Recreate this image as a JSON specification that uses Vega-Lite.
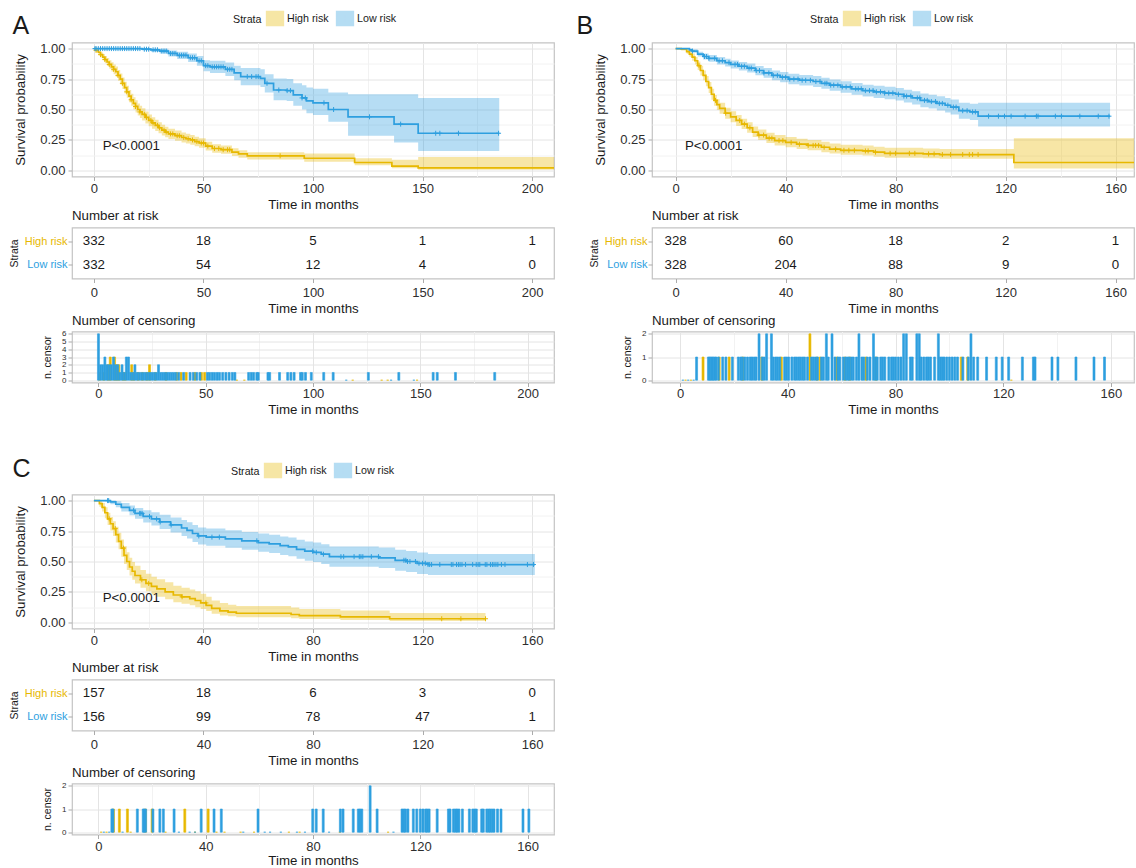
{
"$schema": "https://vega.github.io/schema/vega-lite/v6.json",
"background": "white",
"padding": {"left": 8, "top": 9.5, "right": 0, "bottom": 0},
"autosize": {"type": "pad"},
"config": {
 "font": "Liberation Sans",
 "view": {"stroke": "#C4C4C4", "strokeWidth": 1.2},
 "axis": {"labelFontSize": 13, "titleFontSize": 13.3, "titleFontWeight": "normal", "labelColor": "#2E2E2E", "titleColor": "#1A1A1A", "domain": false, "tickColor": "#ABABAB", "tickSize": 4, "tickWidth": 1, "labelPadding": 1.5, "titlePadding": 2, "gridColor": "#E4E4E4", "gridWidth": 1, "labelFlush": false, "labelOverlap": false},
 "title": {"fontWeight": "normal", "color": "#1A1A1A"}
},
"datasets": {
 "curvesA": [
  {"s":"H","t":0,"v":1,"lo":1,"hi":1},{"s":"H","t":1,"v":0.985,"lo":0.975,"hi":0.995},{"s":"H","t":2,"v":0.97,"lo":0.955,"hi":0.985},{"s":"H","t":3,"v":0.95,"lo":0.93,"hi":0.97},{"s":"H","t":4,"v":0.93,"lo":0.905,"hi":0.955},{"s":"H","t":5,"v":0.91,"lo":0.88,"hi":0.94},{"s":"H","t":6,"v":0.89,"lo":0.857,"hi":0.923},{"s":"H","t":7,"v":0.87,"lo":0.835,"hi":0.905},{"s":"H","t":8,"v":0.85,"lo":0.812,"hi":0.888},{"s":"H","t":9,"v":0.83,"lo":0.79,"hi":0.87},{"s":"H","t":10,"v":0.81,"lo":0.768,"hi":0.852},{"s":"H","t":11,"v":0.78,"lo":0.736,"hi":0.824},{"s":"H","t":12,"v":0.75,"lo":0.705,"hi":0.795},{"s":"H","t":13,"v":0.715,"lo":0.668,"hi":0.762},{"s":"H","t":14,"v":0.68,"lo":0.632,"hi":0.728},{"s":"H","t":15,"v":0.645,"lo":0.596,"hi":0.694},{"s":"H","t":16,"v":0.61,"lo":0.56,"hi":0.66},{"s":"H","t":17,"v":0.58,"lo":0.53,"hi":0.63},{"s":"H","t":18,"v":0.55,"lo":0.5,"hi":0.6},{"s":"H","t":19,"v":0.525,"lo":0.475,"hi":0.575},{"s":"H","t":20,"v":0.5,"lo":0.45,"hi":0.55},{"s":"H","t":21,"v":0.48,"lo":0.43,"hi":0.53},{"s":"H","t":22,"v":0.46,"lo":0.41,"hi":0.51},{"s":"H","t":23.5,"v":0.435,"lo":0.386,"hi":0.484},{"s":"H","t":25,"v":0.41,"lo":0.362,"hi":0.458},{"s":"H","t":26.5,"v":0.39,"lo":0.343,"hi":0.437},{"s":"H","t":28,"v":0.37,"lo":0.324,"hi":0.416},{"s":"H","t":29.5,"v":0.35,"lo":0.305,"hi":0.395},{"s":"H","t":31,"v":0.33,"lo":0.286,"hi":0.374},{"s":"H","t":32.5,"v":0.315,"lo":0.272,"hi":0.358},{"s":"H","t":34,"v":0.3,"lo":0.258,"hi":0.342},{"s":"H","t":37,"v":0.285,"lo":0.243,"hi":0.327},{"s":"H","t":40,"v":0.27,"lo":0.229,"hi":0.311},{"s":"H","t":42,"v":0.26,"lo":0.22,"hi":0.3},{"s":"H","t":44,"v":0.25,"lo":0.21,"hi":0.29},{"s":"H","t":46,"v":0.237,"lo":0.198,"hi":0.276},{"s":"H","t":48,"v":0.225,"lo":0.187,"hi":0.263},{"s":"H","t":51,"v":0.2,"lo":0.164,"hi":0.236},{"s":"H","t":54,"v":0.18,"lo":0.145,"hi":0.215},{"s":"H","t":58,"v":0.17,"lo":0.136,"hi":0.204},{"s":"H","t":63,"v":0.15,"lo":0.118,"hi":0.182},{"s":"H","t":66,"v":0.135,"lo":0.104,"hi":0.166},{"s":"H","t":70,"v":0.12,"lo":0.09,"hi":0.15},{"s":"H","t":96,"v":0.1,"lo":0.072,"hi":0.138},{"s":"H","t":119,"v":0.065,"lo":0.042,"hi":0.1},{"s":"H","t":136,"v":0.035,"lo":0.018,"hi":0.088},{"s":"H","t":148,"v":0.02,"lo":0.005,"hi":0.11},{"s":"H","t":215,"v":0.02,"lo":0.005,"hi":0.11},
  {"s":"L","t":0,"v":1,"lo":1,"hi":1},{"s":"L","t":22,"v":0.995,"lo":0.985,"hi":1},{"s":"L","t":26,"v":0.99,"lo":0.975,"hi":1},{"s":"L","t":30,"v":0.98,"lo":0.96,"hi":0.998},{"s":"L","t":34,"v":0.96,"lo":0.935,"hi":0.985},{"s":"L","t":38,"v":0.945,"lo":0.915,"hi":0.975},{"s":"L","t":43,"v":0.925,"lo":0.89,"hi":0.96},{"s":"L","t":47,"v":0.9,"lo":0.86,"hi":0.94},{"s":"L","t":50,"v":0.86,"lo":0.815,"hi":0.905},{"s":"L","t":53,"v":0.85,"lo":0.8,"hi":0.9},{"s":"L","t":60,"v":0.83,"lo":0.775,"hi":0.885},{"s":"L","t":64,"v":0.8,"lo":0.74,"hi":0.86},{"s":"L","t":67,"v":0.77,"lo":0.7,"hi":0.84},{"s":"L","t":76,"v":0.755,"lo":0.685,"hi":0.83},{"s":"L","t":78,"v":0.715,"lo":0.64,"hi":0.79},{"s":"L","t":82,"v":0.66,"lo":0.575,"hi":0.755},{"s":"L","t":88,"v":0.655,"lo":0.57,"hi":0.75},{"s":"L","t":91,"v":0.62,"lo":0.53,"hi":0.715},{"s":"L","t":95,"v":0.595,"lo":0.5,"hi":0.7},{"s":"L","t":97,"v":0.57,"lo":0.47,"hi":0.68},{"s":"L","t":100,"v":0.555,"lo":0.455,"hi":0.67},{"s":"L","t":107,"v":0.5,"lo":0.4,"hi":0.64},{"s":"L","t":116,"v":0.44,"lo":0.285,"hi":0.625},{"s":"L","t":137,"v":0.38,"lo":0.23,"hi":0.625},{"s":"L","t":148,"v":0.305,"lo":0.16,"hi":0.595},{"s":"L","t":185,"v":0.305,"lo":0.16,"hi":0.595}
 ],
 "marksA": [
  {"s":"H","t":1,"v":0.985},{"s":"H","t":3,"v":0.95},{"s":"H","t":5,"v":0.91},{"s":"H","t":7,"v":0.87},{"s":"H","t":9,"v":0.83},{"s":"H","t":11,"v":0.78},{"s":"H","t":13,"v":0.715},{"s":"H","t":15,"v":0.645},{"s":"H","t":17,"v":0.58},{"s":"H","t":19,"v":0.525},{"s":"H","t":21,"v":0.48},{"s":"H","t":23,"v":0.46},{"s":"H","t":24,"v":0.435},{"s":"H","t":26,"v":0.41},{"s":"H","t":27,"v":0.39},{"s":"H","t":29,"v":0.37},{"s":"H","t":30,"v":0.35},{"s":"H","t":32,"v":0.33},{"s":"H","t":33,"v":0.315},{"s":"H","t":35,"v":0.3},{"s":"H","t":36,"v":0.3},{"s":"H","t":38,"v":0.285},{"s":"H","t":39,"v":0.285},{"s":"H","t":41,"v":0.27},{"s":"H","t":43,"v":0.26},{"s":"H","t":45,"v":0.25},{"s":"H","t":47,"v":0.237},{"s":"H","t":49,"v":0.225},{"s":"H","t":50,"v":0.225},{"s":"H","t":52,"v":0.2},{"s":"H","t":55,"v":0.18},{"s":"H","t":57,"v":0.18},{"s":"H","t":59,"v":0.17},{"s":"H","t":61,"v":0.17},{"s":"H","t":62,"v":0.17},{"s":"H","t":85,"v":0.12},
  {"s":"L","t":0.5,"v":1},{"s":"L","t":1,"v":1},{"s":"L","t":2,"v":1},{"s":"L","t":3,"v":1},{"s":"L","t":4,"v":1},{"s":"L","t":5,"v":1},{"s":"L","t":6,"v":1},{"s":"L","t":7,"v":1},{"s":"L","t":8,"v":1},{"s":"L","t":9,"v":1},{"s":"L","t":10,"v":1},{"s":"L","t":11,"v":1},{"s":"L","t":12,"v":1},{"s":"L","t":13,"v":1},{"s":"L","t":14,"v":1},{"s":"L","t":15,"v":1},{"s":"L","t":16,"v":1},{"s":"L","t":17,"v":1},{"s":"L","t":18,"v":1},{"s":"L","t":19,"v":1},{"s":"L","t":20,"v":1},{"s":"L","t":21,"v":1},{"s":"L","t":23,"v":0.995},{"s":"L","t":24,"v":0.995},{"s":"L","t":25,"v":0.995},{"s":"L","t":27,"v":0.99},{"s":"L","t":28,"v":0.99},{"s":"L","t":29,"v":0.99},{"s":"L","t":31,"v":0.98},{"s":"L","t":32,"v":0.98},{"s":"L","t":33,"v":0.98},{"s":"L","t":35,"v":0.96},{"s":"L","t":36,"v":0.96},{"s":"L","t":37,"v":0.96},{"s":"L","t":39,"v":0.945},{"s":"L","t":40,"v":0.945},{"s":"L","t":41,"v":0.945},{"s":"L","t":42,"v":0.945},{"s":"L","t":44,"v":0.925},{"s":"L","t":45,"v":0.925},{"s":"L","t":46,"v":0.925},{"s":"L","t":48,"v":0.9},{"s":"L","t":49,"v":0.9},{"s":"L","t":51,"v":0.86},{"s":"L","t":52,"v":0.86},{"s":"L","t":54,"v":0.85},{"s":"L","t":55,"v":0.85},{"s":"L","t":56,"v":0.85},{"s":"L","t":57,"v":0.85},{"s":"L","t":58,"v":0.85},{"s":"L","t":59,"v":0.85},{"s":"L","t":61,"v":0.83},{"s":"L","t":62,"v":0.83},{"s":"L","t":63,"v":0.83},{"s":"L","t":70,"v":0.77},{"s":"L","t":72,"v":0.77},{"s":"L","t":74,"v":0.77},{"s":"L","t":75,"v":0.77},{"s":"L","t":79,"v":0.715},{"s":"L","t":84.4,"v":0.66},{"s":"L","t":88.2,"v":0.655},{"s":"L","t":89.7,"v":0.655},{"s":"L","t":95,"v":0.595},{"s":"L","t":96.5,"v":0.595},{"s":"L","t":105,"v":0.555},{"s":"L","t":109.4,"v":0.5},{"s":"L","t":125.8,"v":0.44},{"s":"L","t":140,"v":0.38},{"s":"L","t":156,"v":0.305},{"s":"L","t":157.9,"v":0.305},{"s":"L","t":166.4,"v":0.305},{"s":"L","t":184.7,"v":0.305}
 ],
 "pvA": [{"t":4,"v":0.2,"label":"P<0.0001"}],
 "riskA": [
  {"s":"H","t":0,"n":332},{"s":"H","t":50,"n":18},{"s":"H","t":100,"n":5},{"s":"H","t":150,"n":1},{"s":"H","t":200,"n":1},
  {"s":"L","t":0,"n":332},{"s":"L","t":50,"n":54},{"s":"L","t":100,"n":12},{"s":"L","t":150,"n":4},{"s":"L","t":200,"n":0}
 ],
 "censA": [
  {"s":"H","t":0.5,"n":1},{"s":"H","t":2.5,"n":1},{"s":"H","t":4.5,"n":2},{"s":"H","t":5.5,"n":3},{"s":"H","t":7.5,"n":3},{"s":"H","t":8.5,"n":2},{"s":"H","t":9.5,"n":2},{"s":"H","t":11.5,"n":1},{"s":"H","t":12.5,"n":1},{"s":"H","t":15.5,"n":2},{"s":"H","t":16.5,"n":1},{"s":"H","t":18.5,"n":1},{"s":"H","t":20.5,"n":1},{"s":"H","t":22.5,"n":1},{"s":"H","t":23.8,"n":2},{"s":"H","t":26.5,"n":1},{"s":"H","t":31.5,"n":1},{"s":"H","t":36.5,"n":1},{"s":"H","t":38.5,"n":1},{"s":"H","t":40.9,"n":1},{"s":"H","t":45,"n":1},{"s":"H","t":48,"n":1},{"s":"H","t":49.5,"n":1},{"s":"H","t":64.5,"n":0},{"s":"H","t":68,"n":0},{"s":"H","t":118.5,"n":0},{"s":"H","t":132,"n":0},{"s":"H","t":134.8,"n":0},{"s":"H","t":148.5,"n":0},
  {"s":"L","t":0,"n":6},{"s":"L","t":1,"n":2},{"s":"L","t":2,"n":2},{"s":"L","t":3,"n":3},{"s":"L","t":4,"n":2},{"s":"L","t":5,"n":2},{"s":"L","t":6,"n":2},{"s":"L","t":7,"n":3},{"s":"L","t":8,"n":2},{"s":"L","t":9,"n":2},{"s":"L","t":10,"n":1},{"s":"L","t":11,"n":2},{"s":"L","t":12,"n":1},{"s":"L","t":13,"n":3},{"s":"L","t":14,"n":3},{"s":"L","t":15,"n":1},{"s":"L","t":16,"n":1},{"s":"L","t":17,"n":2},{"s":"L","t":18,"n":1},{"s":"L","t":19,"n":1},{"s":"L","t":20,"n":1},{"s":"L","t":21,"n":1},{"s":"L","t":22,"n":1},{"s":"L","t":23,"n":1},{"s":"L","t":24,"n":1},{"s":"L","t":25,"n":1},{"s":"L","t":26,"n":1},{"s":"L","t":27,"n":1},{"s":"L","t":28,"n":2},{"s":"L","t":29,"n":1},{"s":"L","t":30,"n":1},{"s":"L","t":31,"n":1},{"s":"L","t":32,"n":1},{"s":"L","t":33,"n":1},{"s":"L","t":34,"n":1},{"s":"L","t":35,"n":1},{"s":"L","t":36,"n":1},{"s":"L","t":37.4,"n":1},{"s":"L","t":39.7,"n":1},{"s":"L","t":42.7,"n":1},{"s":"L","t":44.2,"n":1},{"s":"L","t":45.8,"n":1},{"s":"L","t":47.3,"n":1},{"s":"L","t":50.8,"n":1},{"s":"L","t":51.8,"n":1},{"s":"L","t":53,"n":1},{"s":"L","t":54.1,"n":1},{"s":"L","t":55.3,"n":1},{"s":"L","t":56.4,"n":1},{"s":"L","t":57.9,"n":1},{"s":"L","t":59.4,"n":1},{"s":"L","t":60.9,"n":1},{"s":"L","t":62.4,"n":1},{"s":"L","t":63.6,"n":1},{"s":"L","t":70,"n":1},{"s":"L","t":71.2,"n":1},{"s":"L","t":72.3,"n":1},{"s":"L","t":73.8,"n":1},{"s":"L","t":74.5,"n":1},{"s":"L","t":79,"n":1},{"s":"L","t":79.8,"n":1},{"s":"L","t":84.4,"n":1},{"s":"L","t":88.2,"n":1},{"s":"L","t":89.7,"n":1},{"s":"L","t":91.2,"n":1},{"s":"L","t":94.2,"n":1},{"s":"L","t":95,"n":1},{"s":"L","t":96.5,"n":1},{"s":"L","t":99.2,"n":1},{"s":"L","t":105,"n":1},{"s":"L","t":109.4,"n":1},{"s":"L","t":115.5,"n":0},{"s":"L","t":125.8,"n":1},{"s":"L","t":136.4,"n":0},{"s":"L","t":140,"n":1},{"s":"L","t":147,"n":0},{"s":"L","t":156,"n":1},{"s":"L","t":157.9,"n":1},{"s":"L","t":166.4,"n":1},{"s":"L","t":184.7,"n":1}
 ],
 "curvesB": [
  {"s":"H","t":0,"v":1,"lo":1,"hi":1},{"s":"H","t":2,"v":0.995,"lo":0.985,"hi":1},{"s":"H","t":4,"v":0.975,"lo":0.958,"hi":0.992},{"s":"H","t":5,"v":0.955,"lo":0.933,"hi":0.977},{"s":"H","t":6,"v":0.93,"lo":0.9,"hi":0.96},{"s":"H","t":7,"v":0.9,"lo":0.87,"hi":0.93},{"s":"H","t":8,"v":0.86,"lo":0.825,"hi":0.895},{"s":"H","t":9,"v":0.82,"lo":0.78,"hi":0.86},{"s":"H","t":10,"v":0.78,"lo":0.74,"hi":0.82},{"s":"H","t":11,"v":0.73,"lo":0.69,"hi":0.775},{"s":"H","t":12,"v":0.68,"lo":0.635,"hi":0.725},{"s":"H","t":13,"v":0.625,"lo":0.58,"hi":0.67},{"s":"H","t":14,"v":0.575,"lo":0.53,"hi":0.62},{"s":"H","t":15,"v":0.54,"lo":0.495,"hi":0.585},{"s":"H","t":16,"v":0.51,"lo":0.465,"hi":0.555},{"s":"H","t":18,"v":0.47,"lo":0.425,"hi":0.515},{"s":"H","t":20,"v":0.44,"lo":0.395,"hi":0.485},{"s":"H","t":22,"v":0.41,"lo":0.365,"hi":0.455},{"s":"H","t":24,"v":0.38,"lo":0.34,"hi":0.425},{"s":"H","t":26,"v":0.35,"lo":0.31,"hi":0.395},{"s":"H","t":28,"v":0.315,"lo":0.275,"hi":0.36},{"s":"H","t":30,"v":0.29,"lo":0.25,"hi":0.335},{"s":"H","t":33,"v":0.265,"lo":0.225,"hi":0.31},{"s":"H","t":36,"v":0.245,"lo":0.205,"hi":0.29},{"s":"H","t":40,"v":0.23,"lo":0.19,"hi":0.275},{"s":"H","t":44,"v":0.215,"lo":0.175,"hi":0.26},{"s":"H","t":48,"v":0.205,"lo":0.165,"hi":0.25},{"s":"H","t":53,"v":0.19,"lo":0.15,"hi":0.235},{"s":"H","t":56,"v":0.175,"lo":0.138,"hi":0.22},{"s":"H","t":60,"v":0.165,"lo":0.128,"hi":0.21},{"s":"H","t":68,"v":0.16,"lo":0.122,"hi":0.205},{"s":"H","t":72,"v":0.15,"lo":0.113,"hi":0.195},{"s":"H","t":76,"v":0.14,"lo":0.104,"hi":0.185},{"s":"H","t":90,"v":0.135,"lo":0.1,"hi":0.18},{"s":"H","t":96,"v":0.13,"lo":0.095,"hi":0.175},{"s":"H","t":123,"v":0.065,"lo":0.016,"hi":0.265},{"s":"H","t":175,"v":0.065,"lo":0.016,"hi":0.265},
  {"s":"L","t":0,"v":1,"lo":1,"hi":1},{"s":"L","t":5,"v":0.99,"lo":0.98,"hi":1},{"s":"L","t":6,"v":0.98,"lo":0.965,"hi":0.995},{"s":"L","t":8,"v":0.955,"lo":0.935,"hi":0.975},{"s":"L","t":10,"v":0.935,"lo":0.91,"hi":0.96},{"s":"L","t":12,"v":0.92,"lo":0.893,"hi":0.947},{"s":"L","t":15,"v":0.9,"lo":0.87,"hi":0.93},{"s":"L","t":18,"v":0.885,"lo":0.853,"hi":0.917},{"s":"L","t":20,"v":0.87,"lo":0.837,"hi":0.903},{"s":"L","t":23,"v":0.855,"lo":0.82,"hi":0.89},{"s":"L","t":26,"v":0.84,"lo":0.803,"hi":0.877},{"s":"L","t":29,"v":0.82,"lo":0.782,"hi":0.858},{"s":"L","t":32,"v":0.8,"lo":0.76,"hi":0.84},{"s":"L","t":35,"v":0.78,"lo":0.74,"hi":0.82},{"s":"L","t":38,"v":0.765,"lo":0.723,"hi":0.807},{"s":"L","t":41,"v":0.75,"lo":0.707,"hi":0.793},{"s":"L","t":45,"v":0.74,"lo":0.696,"hi":0.784},{"s":"L","t":50,"v":0.73,"lo":0.685,"hi":0.775},{"s":"L","t":53,"v":0.715,"lo":0.67,"hi":0.76},{"s":"L","t":56,"v":0.7,"lo":0.654,"hi":0.746},{"s":"L","t":60,"v":0.685,"lo":0.638,"hi":0.732},{"s":"L","t":64,"v":0.67,"lo":0.622,"hi":0.718},{"s":"L","t":68,"v":0.655,"lo":0.606,"hi":0.704},{"s":"L","t":72,"v":0.645,"lo":0.595,"hi":0.695},{"s":"L","t":76,"v":0.635,"lo":0.584,"hi":0.686},{"s":"L","t":80,"v":0.625,"lo":0.573,"hi":0.677},{"s":"L","t":83,"v":0.61,"lo":0.557,"hi":0.663},{"s":"L","t":86,"v":0.595,"lo":0.541,"hi":0.649},{"s":"L","t":89,"v":0.575,"lo":0.519,"hi":0.631},{"s":"L","t":92,"v":0.565,"lo":0.508,"hi":0.622},{"s":"L","t":95,"v":0.55,"lo":0.492,"hi":0.608},{"s":"L","t":98,"v":0.535,"lo":0.475,"hi":0.595},{"s":"L","t":100,"v":0.52,"lo":0.458,"hi":0.582},{"s":"L","t":103,"v":0.49,"lo":0.425,"hi":0.555},{"s":"L","t":107,"v":0.48,"lo":0.413,"hi":0.547},{"s":"L","t":110,"v":0.445,"lo":0.36,"hi":0.555},{"s":"L","t":158,"v":0.445,"lo":0.36,"hi":0.555}
 ],
 "marksB": [
  {"s":"H","t":8.5,"v":0.86},{"s":"H","t":14.5,"v":0.575},{"s":"H","t":18.2,"v":0.47},{"s":"H","t":23.3,"v":0.41},{"s":"H","t":25,"v":0.38},{"s":"H","t":27,"v":0.35},{"s":"H","t":30.3,"v":0.29},{"s":"H","t":32,"v":0.29},{"s":"H","t":34,"v":0.265},{"s":"H","t":35,"v":0.265},{"s":"H","t":37.6,"v":0.245},{"s":"H","t":39,"v":0.245},{"s":"H","t":42,"v":0.23},{"s":"H","t":45,"v":0.215},{"s":"H","t":48.2,"v":0.205},{"s":"H","t":50,"v":0.205},{"s":"H","t":50.9,"v":0.205},{"s":"H","t":52,"v":0.205},{"s":"H","t":54,"v":0.19},{"s":"H","t":58.2,"v":0.175},{"s":"H","t":61.2,"v":0.165},{"s":"H","t":63,"v":0.165},{"s":"H","t":65,"v":0.165},{"s":"H","t":69,"v":0.16},{"s":"H","t":70,"v":0.16},{"s":"H","t":72.7,"v":0.15},{"s":"H","t":78,"v":0.14},{"s":"H","t":80,"v":0.14},{"s":"H","t":85,"v":0.14},{"s":"H","t":87,"v":0.14},{"s":"H","t":92,"v":0.135},{"s":"H","t":94,"v":0.135},{"s":"H","t":97,"v":0.13},{"s":"H","t":100,"v":0.13},{"s":"H","t":104.4,"v":0.13},{"s":"H","t":106.8,"v":0.13},{"s":"H","t":108,"v":0.13},{"s":"H","t":110,"v":0.13},
  {"s":"L","t":6.1,"v":0.98},{"s":"L","t":10.5,"v":0.935},{"s":"L","t":11.2,"v":0.935},{"s":"L","t":12.1,"v":0.92},{"s":"L","t":14.2,"v":0.92},{"s":"L","t":15.8,"v":0.9},{"s":"L","t":17,"v":0.9},{"s":"L","t":19.4,"v":0.885},{"s":"L","t":21.6,"v":0.87},{"s":"L","t":22.5,"v":0.87},{"s":"L","t":24,"v":0.855},{"s":"L","t":25,"v":0.855},{"s":"L","t":26.7,"v":0.84},{"s":"L","t":27.5,"v":0.84},{"s":"L","t":29.3,"v":0.82},{"s":"L","t":30.5,"v":0.82},{"s":"L","t":32.1,"v":0.8},{"s":"L","t":33.9,"v":0.8},{"s":"L","t":35.5,"v":0.78},{"s":"L","t":37,"v":0.78},{"s":"L","t":38.8,"v":0.765},{"s":"L","t":40,"v":0.765},{"s":"L","t":41.5,"v":0.75},{"s":"L","t":43,"v":0.75},{"s":"L","t":44.5,"v":0.75},{"s":"L","t":46,"v":0.74},{"s":"L","t":47.3,"v":0.74},{"s":"L","t":49,"v":0.74},{"s":"L","t":51,"v":0.73},{"s":"L","t":52.5,"v":0.73},{"s":"L","t":54.3,"v":0.715},{"s":"L","t":55,"v":0.715},{"s":"L","t":56.4,"v":0.7},{"s":"L","t":57.5,"v":0.7},{"s":"L","t":59,"v":0.7},{"s":"L","t":60.6,"v":0.685},{"s":"L","t":62,"v":0.685},{"s":"L","t":63.5,"v":0.685},{"s":"L","t":65.5,"v":0.67},{"s":"L","t":66.4,"v":0.67},{"s":"L","t":67.5,"v":0.67},{"s":"L","t":69,"v":0.655},{"s":"L","t":70.5,"v":0.655},{"s":"L","t":71.8,"v":0.655},{"s":"L","t":73,"v":0.645},{"s":"L","t":74.5,"v":0.645},{"s":"L","t":76,"v":0.635},{"s":"L","t":77.5,"v":0.635},{"s":"L","t":79,"v":0.635},{"s":"L","t":81,"v":0.625},{"s":"L","t":83,"v":0.61},{"s":"L","t":84,"v":0.61},{"s":"L","t":85.5,"v":0.61},{"s":"L","t":87.9,"v":0.595},{"s":"L","t":88.8,"v":0.595},{"s":"L","t":90.5,"v":0.575},{"s":"L","t":91.5,"v":0.575},{"s":"L","t":93,"v":0.565},{"s":"L","t":94.5,"v":0.565},{"s":"L","t":95.9,"v":0.55},{"s":"L","t":97,"v":0.55},{"s":"L","t":99,"v":0.535},{"s":"L","t":101,"v":0.52},{"s":"L","t":102,"v":0.52},{"s":"L","t":104.4,"v":0.49},{"s":"L","t":106,"v":0.49},{"s":"L","t":108,"v":0.48},{"s":"L","t":109,"v":0.48},{"s":"L","t":113.8,"v":0.445},{"s":"L","t":117.4,"v":0.445},{"s":"L","t":119.6,"v":0.445},{"s":"L","t":122,"v":0.445},{"s":"L","t":127.1,"v":0.445},{"s":"L","t":131.2,"v":0.445},{"s":"L","t":131.8,"v":0.445},{"s":"L","t":138.1,"v":0.445},{"s":"L","t":140.3,"v":0.445},{"s":"L","t":147,"v":0.445},{"s":"L","t":153.7,"v":0.445},{"s":"L","t":157.6,"v":0.445}
 ],
 "pvB": [{"t":3.4,"v":0.2,"label":"P<0.0001"}],
 "riskB": [
  {"s":"H","t":0,"n":328},{"s":"H","t":40,"n":60},{"s":"H","t":80,"n":18},{"s":"H","t":120,"n":2},{"s":"H","t":160,"n":1},
  {"s":"L","t":0,"n":328},{"s":"L","t":40,"n":204},{"s":"L","t":80,"n":88},{"s":"L","t":120,"n":9},{"s":"L","t":160,"n":0}
 ],
 "censB": [
  {"s":"H","t":2,"n":0},{"s":"H","t":4,"n":0},{"s":"H","t":8.5,"n":1},{"s":"H","t":14.5,"n":1},{"s":"H","t":18.2,"n":1},{"s":"H","t":23.3,"n":1},{"s":"H","t":30.3,"n":1},{"s":"H","t":37.6,"n":1},{"s":"H","t":48.2,"n":2},{"s":"H","t":50.9,"n":1},{"s":"H","t":52,"n":1},{"s":"H","t":58.2,"n":1},{"s":"H","t":61.2,"n":1},{"s":"H","t":63,"n":1},{"s":"H","t":69,"n":1},{"s":"H","t":72.7,"n":1},{"s":"H","t":104.4,"n":1},{"s":"H","t":106.8,"n":1},{"s":"H","t":123,"n":0},
  {"s":"L","t":1,"n":0},{"s":"L","t":3,"n":0},{"s":"L","t":5,"n":0},{"s":"L","t":6.1,"n":1},{"s":"L","t":10.5,"n":1},{"s":"L","t":11,"n":1},{"s":"L","t":11.6,"n":1},{"s":"L","t":12.1,"n":1},{"s":"L","t":12.7,"n":1},{"s":"L","t":13.3,"n":1},{"s":"L","t":14.2,"n":1},{"s":"L","t":15.8,"n":1},{"s":"L","t":17,"n":1},{"s":"L","t":19.4,"n":1},{"s":"L","t":21.6,"n":1},{"s":"L","t":22.5,"n":1},{"s":"L","t":23.1,"n":1},{"s":"L","t":24,"n":1},{"s":"L","t":25,"n":1},{"s":"L","t":26,"n":1},{"s":"L","t":26.7,"n":1},{"s":"L","t":27.5,"n":1},{"s":"L","t":28.2,"n":1},{"s":"L","t":29.3,"n":2},{"s":"L","t":30.5,"n":1},{"s":"L","t":31.2,"n":1},{"s":"L","t":32.1,"n":2},{"s":"L","t":33.9,"n":2},{"s":"L","t":34.6,"n":1},{"s":"L","t":35.5,"n":1},{"s":"L","t":36.2,"n":1},{"s":"L","t":37,"n":1},{"s":"L","t":38.8,"n":1},{"s":"L","t":39.5,"n":1},{"s":"L","t":40.3,"n":1},{"s":"L","t":41.5,"n":1},{"s":"L","t":42.5,"n":1},{"s":"L","t":43.2,"n":1},{"s":"L","t":44,"n":1},{"s":"L","t":44.7,"n":1},{"s":"L","t":45.5,"n":1},{"s":"L","t":46.2,"n":1},{"s":"L","t":47.3,"n":1},{"s":"L","t":48.8,"n":1},{"s":"L","t":49.5,"n":1},{"s":"L","t":50.3,"n":1},{"s":"L","t":51,"n":1},{"s":"L","t":52.5,"n":1},{"s":"L","t":53.2,"n":1},{"s":"L","t":54.3,"n":2},{"s":"L","t":55,"n":1},{"s":"L","t":56.4,"n":2},{"s":"L","t":57.5,"n":1},{"s":"L","t":58.6,"n":1},{"s":"L","t":59.3,"n":1},{"s":"L","t":60.6,"n":1},{"s":"L","t":61.5,"n":1},{"s":"L","t":62.2,"n":1},{"s":"L","t":62.8,"n":1},{"s":"L","t":63.6,"n":1},{"s":"L","t":64.3,"n":1},{"s":"L","t":65.5,"n":1},{"s":"L","t":66.4,"n":2},{"s":"L","t":67.5,"n":1},{"s":"L","t":68.2,"n":1},{"s":"L","t":69.5,"n":1},{"s":"L","t":70.5,"n":1},{"s":"L","t":71.8,"n":2},{"s":"L","t":72.5,"n":1},{"s":"L","t":73.2,"n":1},{"s":"L","t":74.5,"n":1},{"s":"L","t":75.2,"n":1},{"s":"L","t":76,"n":1},{"s":"L","t":77.5,"n":1},{"s":"L","t":78.5,"n":1},{"s":"L","t":79.2,"n":1},{"s":"L","t":80,"n":1},{"s":"L","t":81,"n":1},{"s":"L","t":82,"n":1},{"s":"L","t":83,"n":2},{"s":"L","t":84,"n":2},{"s":"L","t":85.5,"n":1},{"s":"L","t":86.2,"n":1},{"s":"L","t":87.9,"n":2},{"s":"L","t":88.8,"n":2},{"s":"L","t":89.5,"n":1},{"s":"L","t":90.5,"n":1},{"s":"L","t":91.5,"n":1},{"s":"L","t":92.2,"n":1},{"s":"L","t":93,"n":1},{"s":"L","t":94.5,"n":1},{"s":"L","t":95.9,"n":2},{"s":"L","t":96.6,"n":1},{"s":"L","t":97.3,"n":1},{"s":"L","t":98,"n":1},{"s":"L","t":99,"n":1},{"s":"L","t":100,"n":1},{"s":"L","t":101,"n":1},{"s":"L","t":102,"n":1},{"s":"L","t":103,"n":1},{"s":"L","t":105,"n":1},{"s":"L","t":107,"n":1},{"s":"L","t":108,"n":2},{"s":"L","t":109,"n":1},{"s":"L","t":110.5,"n":1},{"s":"L","t":113.8,"n":1},{"s":"L","t":117.4,"n":1},{"s":"L","t":119.6,"n":1},{"s":"L","t":122,"n":1},{"s":"L","t":127.1,"n":1},{"s":"L","t":131.2,"n":1},{"s":"L","t":131.8,"n":1},{"s":"L","t":138.1,"n":1},{"s":"L","t":140.3,"n":1},{"s":"L","t":147,"n":1},{"s":"L","t":153.7,"n":1},{"s":"L","t":157.6,"n":1}
 ],
 "curvesC": [
  {"s":"H","t":0,"v":1,"lo":1,"hi":1},{"s":"H","t":2,"v":0.975,"lo":0.95,"hi":1},{"s":"H","t":3,"v":0.945,"lo":0.91,"hi":0.98},{"s":"H","t":4,"v":0.9,"lo":0.855,"hi":0.945},{"s":"H","t":5,"v":0.85,"lo":0.8,"hi":0.9},{"s":"H","t":6,"v":0.81,"lo":0.755,"hi":0.865},{"s":"H","t":7,"v":0.77,"lo":0.71,"hi":0.83},{"s":"H","t":8,"v":0.72,"lo":0.655,"hi":0.785},{"s":"H","t":9,"v":0.665,"lo":0.6,"hi":0.735},{"s":"H","t":10,"v":0.61,"lo":0.54,"hi":0.68},{"s":"H","t":11,"v":0.55,"lo":0.48,"hi":0.625},{"s":"H","t":12,"v":0.5,"lo":0.43,"hi":0.575},{"s":"H","t":13,"v":0.455,"lo":0.385,"hi":0.53},{"s":"H","t":14,"v":0.42,"lo":0.35,"hi":0.495},{"s":"H","t":15,"v":0.385,"lo":0.32,"hi":0.465},{"s":"H","t":17,"v":0.35,"lo":0.285,"hi":0.43},{"s":"H","t":19,"v":0.32,"lo":0.255,"hi":0.4},{"s":"H","t":21,"v":0.295,"lo":0.23,"hi":0.375},{"s":"H","t":23,"v":0.275,"lo":0.21,"hi":0.355},{"s":"H","t":26,"v":0.25,"lo":0.19,"hi":0.33},{"s":"H","t":29,"v":0.225,"lo":0.165,"hi":0.3},{"s":"H","t":32,"v":0.21,"lo":0.153,"hi":0.285},{"s":"H","t":35,"v":0.195,"lo":0.14,"hi":0.27},{"s":"H","t":37,"v":0.18,"lo":0.125,"hi":0.255},{"s":"H","t":39,"v":0.16,"lo":0.11,"hi":0.235},{"s":"H","t":41,"v":0.14,"lo":0.093,"hi":0.21},{"s":"H","t":43,"v":0.115,"lo":0.072,"hi":0.18},{"s":"H","t":46,"v":0.095,"lo":0.057,"hi":0.16},{"s":"H","t":49,"v":0.085,"lo":0.05,"hi":0.145},{"s":"H","t":52,"v":0.075,"lo":0.042,"hi":0.134},{"s":"H","t":72,"v":0.065,"lo":0.035,"hi":0.123},{"s":"H","t":75,"v":0.055,"lo":0.028,"hi":0.11},{"s":"H","t":90,"v":0.045,"lo":0.02,"hi":0.097},{"s":"H","t":108,"v":0.03,"lo":0.012,"hi":0.078},{"s":"H","t":143,"v":0.03,"lo":0.012,"hi":0.078},
  {"s":"L","t":0,"v":1,"lo":1,"hi":1},{"s":"L","t":6,"v":0.99,"lo":0.97,"hi":1},{"s":"L","t":8,"v":0.97,"lo":0.945,"hi":0.995},{"s":"L","t":10,"v":0.945,"lo":0.91,"hi":0.98},{"s":"L","t":13,"v":0.92,"lo":0.88,"hi":0.96},{"s":"L","t":15,"v":0.895,"lo":0.85,"hi":0.94},{"s":"L","t":18,"v":0.87,"lo":0.82,"hi":0.92},{"s":"L","t":21,"v":0.85,"lo":0.795,"hi":0.905},{"s":"L","t":24,"v":0.825,"lo":0.767,"hi":0.883},{"s":"L","t":28,"v":0.8,"lo":0.738,"hi":0.862},{"s":"L","t":32,"v":0.775,"lo":0.71,"hi":0.84},{"s":"L","t":34,"v":0.755,"lo":0.688,"hi":0.822},{"s":"L","t":36,"v":0.73,"lo":0.66,"hi":0.8},{"s":"L","t":38,"v":0.71,"lo":0.64,"hi":0.78},{"s":"L","t":41,"v":0.7,"lo":0.63,"hi":0.77},{"s":"L","t":48,"v":0.685,"lo":0.613,"hi":0.757},{"s":"L","t":54,"v":0.67,"lo":0.597,"hi":0.743},{"s":"L","t":60,"v":0.655,"lo":0.58,"hi":0.73},{"s":"L","t":64,"v":0.645,"lo":0.57,"hi":0.72},{"s":"L","t":68,"v":0.63,"lo":0.554,"hi":0.706},{"s":"L","t":71,"v":0.62,"lo":0.543,"hi":0.697},{"s":"L","t":74,"v":0.6,"lo":0.522,"hi":0.678},{"s":"L","t":77,"v":0.585,"lo":0.506,"hi":0.664},{"s":"L","t":80,"v":0.575,"lo":0.495,"hi":0.655},{"s":"L","t":83,"v":0.56,"lo":0.479,"hi":0.641},{"s":"L","t":86,"v":0.54,"lo":0.457,"hi":0.623},{"s":"L","t":104,"v":0.53,"lo":0.446,"hi":0.614},{"s":"L","t":110,"v":0.51,"lo":0.424,"hi":0.596},{"s":"L","t":114,"v":0.5,"lo":0.413,"hi":0.587},{"s":"L","t":118,"v":0.485,"lo":0.397,"hi":0.573},{"s":"L","t":122,"v":0.475,"lo":0.39,"hi":0.562},{"s":"L","t":161,"v":0.475,"lo":0.39,"hi":0.562}
 ],
 "marksC": [
  {"s":"H","t":5.6,"v":0.85},{"s":"H","t":7.8,"v":0.77},{"s":"H","t":10.8,"v":0.61},{"s":"H","t":17.5,"v":0.35},{"s":"H","t":20,"v":0.32},{"s":"H","t":32.2,"v":0.21},{"s":"H","t":40.9,"v":0.16},{"s":"H","t":127,"v":0.03},{"s":"H","t":134,"v":0.03},{"s":"H","t":143,"v":0.03},
  {"s":"L","t":5,"v":1},{"s":"L","t":5.4,"v":1},{"s":"L","t":14.5,"v":0.92},{"s":"L","t":16.7,"v":0.895},{"s":"L","t":17.1,"v":0.895},{"s":"L","t":17.6,"v":0.895},{"s":"L","t":20.3,"v":0.87},{"s":"L","t":22.9,"v":0.85},{"s":"L","t":24.2,"v":0.825},{"s":"L","t":28.2,"v":0.8},{"s":"L","t":38.3,"v":0.71},{"s":"L","t":43.1,"v":0.7},{"s":"L","t":45.8,"v":0.7},{"s":"L","t":59.5,"v":0.67},{"s":"L","t":79.9,"v":0.585},{"s":"L","t":81.2,"v":0.575},{"s":"L","t":83.8,"v":0.56},{"s":"L","t":90.2,"v":0.54},{"s":"L","t":91.2,"v":0.54},{"s":"L","t":95,"v":0.54},{"s":"L","t":96.9,"v":0.54},{"s":"L","t":97.5,"v":0.54},{"s":"L","t":98.2,"v":0.54},{"s":"L","t":101.3,"v":0.54},{"s":"L","t":103.9,"v":0.54},{"s":"L","t":113.2,"v":0.51},{"s":"L","t":113.9,"v":0.51},{"s":"L","t":114.5,"v":0.5},{"s":"L","t":115.4,"v":0.5},{"s":"L","t":117.4,"v":0.5},{"s":"L","t":118.7,"v":0.485},{"s":"L","t":120,"v":0.485},{"s":"L","t":121,"v":0.485},{"s":"L","t":122,"v":0.475},{"s":"L","t":122.6,"v":0.475},{"s":"L","t":123.3,"v":0.475},{"s":"L","t":126.3,"v":0.475},{"s":"L","t":130.5,"v":0.475},{"s":"L","t":131.1,"v":0.475},{"s":"L","t":132.4,"v":0.475},{"s":"L","t":133.1,"v":0.475},{"s":"L","t":133.7,"v":0.475},{"s":"L","t":134.4,"v":0.475},{"s":"L","t":135.7,"v":0.475},{"s":"L","t":138.3,"v":0.475},{"s":"L","t":139.6,"v":0.475},{"s":"L","t":140.3,"v":0.475},{"s":"L","t":140.9,"v":0.475},{"s":"L","t":142.9,"v":0.475},{"s":"L","t":143.5,"v":0.475},{"s":"L","t":144.8,"v":0.475},{"s":"L","t":145.5,"v":0.475},{"s":"L","t":146.1,"v":0.475},{"s":"L","t":146.8,"v":0.475},{"s":"L","t":147.5,"v":0.475},{"s":"L","t":148.8,"v":0.475},{"s":"L","t":150.1,"v":0.475},{"s":"L","t":158.3,"v":0.475},{"s":"L","t":160.5,"v":0.475}
 ],
 "pvC": [{"t":3.2,"v":0.2,"label":"P<0.0001"}],
 "riskC": [
  {"s":"H","t":0,"n":157},{"s":"H","t":40,"n":18},{"s":"H","t":80,"n":6},{"s":"H","t":120,"n":3},{"s":"H","t":160,"n":0},
  {"s":"L","t":0,"n":156},{"s":"L","t":40,"n":99},{"s":"L","t":80,"n":78},{"s":"L","t":120,"n":47},{"s":"L","t":160,"n":1}
 ],
 "censC": [
  {"s":"H","t":1,"n":0},{"s":"H","t":3,"n":0},{"s":"H","t":5.6,"n":1},{"s":"H","t":7.8,"n":1},{"s":"H","t":10.8,"n":1},{"s":"H","t":12,"n":0},{"s":"H","t":17.5,"n":1},{"s":"H","t":20,"n":1},{"s":"H","t":25,"n":0},{"s":"H","t":32.2,"n":1},{"s":"H","t":36,"n":0},{"s":"H","t":40.9,"n":1},{"s":"H","t":44,"n":0},{"s":"H","t":47,"n":0},{"s":"H","t":53,"n":0},{"s":"H","t":58,"n":0},{"s":"H","t":71,"n":0},{"s":"H","t":75,"n":0},{"s":"H","t":90,"n":0},{"s":"H","t":108,"n":0},
  {"s":"L","t":2,"n":0},{"s":"L","t":4,"n":0},{"s":"L","t":5,"n":1},{"s":"L","t":5.4,"n":1},{"s":"L","t":9,"n":0},{"s":"L","t":14.5,"n":1},{"s":"L","t":16.7,"n":1},{"s":"L","t":17.1,"n":1},{"s":"L","t":17.6,"n":1},{"s":"L","t":20.3,"n":1},{"s":"L","t":22.9,"n":1},{"s":"L","t":24.2,"n":1},{"s":"L","t":28.2,"n":1},{"s":"L","t":30,"n":0},{"s":"L","t":34,"n":0},{"s":"L","t":36,"n":0},{"s":"L","t":38.3,"n":1},{"s":"L","t":43.1,"n":1},{"s":"L","t":45.8,"n":1},{"s":"L","t":54,"n":0},{"s":"L","t":59.5,"n":1},{"s":"L","t":62,"n":0},{"s":"L","t":64,"n":0},{"s":"L","t":68,"n":0},{"s":"L","t":74,"n":0},{"s":"L","t":77,"n":0},{"s":"L","t":79.9,"n":1},{"s":"L","t":81.2,"n":1},{"s":"L","t":83.8,"n":1},{"s":"L","t":86,"n":0},{"s":"L","t":90.2,"n":1},{"s":"L","t":91.2,"n":1},{"s":"L","t":95,"n":1},{"s":"L","t":96.9,"n":1},{"s":"L","t":97.5,"n":1},{"s":"L","t":98.2,"n":1},{"s":"L","t":101.3,"n":2},{"s":"L","t":103.9,"n":1},{"s":"L","t":104,"n":0},{"s":"L","t":110,"n":0},{"s":"L","t":113.2,"n":1},{"s":"L","t":113.9,"n":1},{"s":"L","t":114.5,"n":1},{"s":"L","t":115.4,"n":1},{"s":"L","t":117.4,"n":1},{"s":"L","t":118.7,"n":1},{"s":"L","t":120,"n":1},{"s":"L","t":121,"n":1},{"s":"L","t":122,"n":1},{"s":"L","t":122.6,"n":1},{"s":"L","t":123.3,"n":1},{"s":"L","t":126.3,"n":1},{"s":"L","t":130.5,"n":1},{"s":"L","t":131.1,"n":1},{"s":"L","t":132.4,"n":1},{"s":"L","t":133.1,"n":1},{"s":"L","t":133.7,"n":1},{"s":"L","t":134.4,"n":1},{"s":"L","t":135.7,"n":1},{"s":"L","t":138.3,"n":1},{"s":"L","t":139.6,"n":1},{"s":"L","t":140.3,"n":1},{"s":"L","t":140.9,"n":1},{"s":"L","t":142.9,"n":1},{"s":"L","t":143.5,"n":1},{"s":"L","t":144.8,"n":1},{"s":"L","t":145.5,"n":1},{"s":"L","t":146.1,"n":1},{"s":"L","t":146.8,"n":1},{"s":"L","t":147.5,"n":1},{"s":"L","t":148.8,"n":1},{"s":"L","t":150.1,"n":1},{"s":"L","t":158.3,"n":1},{"s":"L","t":160.5,"n":1}
 ]
},
"columns": 2,
"spacing": {"row": 40, "column": 21},
"resolve": {"scale": {"color": "independent", "stroke": "independent"}, "legend": {"color": "independent", "stroke": "independent"}},
"concat": [
 {
  "title": {"text": "A", "anchor": "start", "frame": "bounds", "fontSize": 25, "offset": 0, "dy": 29, "dx": 4},
  "spacing": -3,
  "resolve": {"scale": {"x": "independent", "y": "independent", "color": "independent", "stroke": "independent"}, "legend": {"color": "independent", "stroke": "independent"}},
  "vconcat": [
   {"width": 482, "height": 134,
    "layer": [
     {"data": {"name": "curvesA"},
      "mark": {"type": "area", "interpolate": "step-after", "opacity": 0.35, "clip": true},
      "encoding": {
       "x": {"field": "t", "type": "quantitative", "scale": {"domain": [-10, 210], "nice": false, "zero": false},
        "axis": {"title": "Time in months", "values": [0,25,50,75,100,125,150,175,200], "format": "d", "labelOverlap": false, "labelExpr": "datum.value % 50 === 0 ? datum.label : ''", "tickOpacity": {"condition": {"test": "datum.value % 50 !== 0", "value": 0}, "value": 1}, "gridColor": {"condition": {"test": "datum.value % 50 !== 0", "value": "#F2F2F2"}, "value": "#E4E4E4"}}},
       "y": {"field": "lo", "type": "quantitative", "scale": {"domain": [-0.05, 1.05], "nice": false, "zero": false},
        "axis": {"title": "Survival probability", "values": [0,0.125,0.25,0.375,0.5,0.625,0.75,0.875,1], "format": ".2f", "labelOverlap": false, "labelPadding": 3, "titlePadding": 12, "labelExpr": "(datum.value == 0 || datum.value == 0.25 || datum.value == 0.5 || datum.value == 0.75 || datum.value == 1) ? datum.label : ''", "tickOpacity": {"condition": {"test": "!(datum.value == 0 || datum.value == 0.25 || datum.value == 0.5 || datum.value == 0.75 || datum.value == 1)", "value": 0}, "value": 1}, "gridColor": {"condition": {"test": "!(datum.value == 0 || datum.value == 0.25 || datum.value == 0.5 || datum.value == 0.75 || datum.value == 1)", "value": "#F2F2F2"}, "value": "#E4E4E4"}}},
       "y2": {"field": "hi"},
       "color": {"field": "s", "type": "nominal", "scale": {"domain": ["H","L"], "range": ["#E7B800","#2E9FDF"]},
        "legend": {"orient": "none", "legendX": 161, "legendY": -32, "direction": "horizontal", "title": "Strata", "titleOrient": "left", "titleAnchor": "middle", "titleBaseline": "middle", "titleAlign": "left", "titleFontSize": 10.7, "titleFontWeight": "normal", "titleColor": "#1A1A1A", "titlePadding": 5, "labelFontSize": 10.7, "labelColor": "#1A1A1A", "labelOffset": 4, "columnPadding": 4, "symbolType": "M-1.2,-1H1.2V1H-1.2Z M-1.2,0H1.2 M0,-0.5V0.5", "symbolSize": 196, "labelExpr": "datum.value === 'H' ? 'High risk' : 'Low risk'"}}
      }},
     {"data": {"name": "curvesA"}, "mark": {"type": "line", "interpolate": "step-after", "strokeWidth": 1.7, "clip": true},
      "encoding": {"x": {"field": "t", "type": "quantitative", "axis": {"title": "Time in months", "values": [0,25,50,75,100,125,150,175,200], "format": "d", "labelOverlap": false, "labelExpr": "datum.value % 50 === 0 ? datum.label : ''", "tickOpacity": {"condition": {"test": "datum.value % 50 !== 0", "value": 0}, "value": 1}, "gridColor": {"condition": {"test": "datum.value % 50 !== 0", "value": "#F2F2F2"}, "value": "#E4E4E4"}}}, "y": {"field": "v", "type": "quantitative", "axis": {"title": "Survival probability", "values": [0,0.125,0.25,0.375,0.5,0.625,0.75,0.875,1], "format": ".2f", "labelOverlap": false, "labelPadding": 3, "titlePadding": 12, "labelExpr": "(datum.value == 0 || datum.value == 0.25 || datum.value == 0.5 || datum.value == 0.75 || datum.value == 1) ? datum.label : ''", "tickOpacity": {"condition": {"test": "!(datum.value == 0 || datum.value == 0.25 || datum.value == 0.5 || datum.value == 0.75 || datum.value == 1)", "value": 0}, "value": 1}, "gridColor": {"condition": {"test": "!(datum.value == 0 || datum.value == 0.25 || datum.value == 0.5 || datum.value == 0.75 || datum.value == 1)", "value": "#F2F2F2"}, "value": "#E4E4E4"}}}, "color": {"field": "s", "type": "nominal"}}},
     {"data": {"name": "marksA"}, "mark": {"type": "point", "shape": "M-1,0H1M0,-1V1", "size": 25, "filled": false, "strokeWidth": 1, "opacity": 1, "clip": true},
      "encoding": {"x": {"field": "t", "type": "quantitative", "axis": {"title": "Time in months", "values": [0,25,50,75,100,125,150,175,200], "format": "d", "labelOverlap": false, "labelExpr": "datum.value % 50 === 0 ? datum.label : ''", "tickOpacity": {"condition": {"test": "datum.value % 50 !== 0", "value": 0}, "value": 1}, "gridColor": {"condition": {"test": "datum.value % 50 !== 0", "value": "#F2F2F2"}, "value": "#E4E4E4"}}}, "y": {"field": "v", "type": "quantitative", "axis": {"title": "Survival probability", "values": [0,0.125,0.25,0.375,0.5,0.625,0.75,0.875,1], "format": ".2f", "labelOverlap": false, "labelPadding": 3, "titlePadding": 12, "labelExpr": "(datum.value == 0 || datum.value == 0.25 || datum.value == 0.5 || datum.value == 0.75 || datum.value == 1) ? datum.label : ''", "tickOpacity": {"condition": {"test": "!(datum.value == 0 || datum.value == 0.25 || datum.value == 0.5 || datum.value == 0.75 || datum.value == 1)", "value": 0}, "value": 1}, "gridColor": {"condition": {"test": "!(datum.value == 0 || datum.value == 0.25 || datum.value == 0.5 || datum.value == 0.75 || datum.value == 1)", "value": "#F2F2F2"}, "value": "#E4E4E4"}}}, "color": {"field": "s", "type": "nominal"}}},
     {"data": {"name": "pvA"}, "mark": {"type": "text", "align": "left", "baseline": "middle", "fontSize": 13.3, "color": "#1A1A1A"},
      "encoding": {"x": {"field": "t", "type": "quantitative", "axis": {"title": "Time in months", "values": [0,25,50,75,100,125,150,175,200], "format": "d", "labelOverlap": false, "labelExpr": "datum.value % 50 === 0 ? datum.label : ''", "tickOpacity": {"condition": {"test": "datum.value % 50 !== 0", "value": 0}, "value": 1}, "gridColor": {"condition": {"test": "datum.value % 50 !== 0", "value": "#F2F2F2"}, "value": "#E4E4E4"}}}, "y": {"field": "v", "type": "quantitative", "axis": {"title": "Survival probability", "values": [0,0.125,0.25,0.375,0.5,0.625,0.75,0.875,1], "format": ".2f", "labelOverlap": false, "labelPadding": 3, "titlePadding": 12, "labelExpr": "(datum.value == 0 || datum.value == 0.25 || datum.value == 0.5 || datum.value == 0.75 || datum.value == 1) ? datum.label : ''", "tickOpacity": {"condition": {"test": "!(datum.value == 0 || datum.value == 0.25 || datum.value == 0.5 || datum.value == 0.75 || datum.value == 1)", "value": 0}, "value": 1}, "gridColor": {"condition": {"test": "!(datum.value == 0 || datum.value == 0.25 || datum.value == 0.5 || datum.value == 0.75 || datum.value == 1)", "value": "#F2F2F2"}, "value": "#E4E4E4"}}}, "text": {"field": "label"}}}
    ]},
   {"width": 482, "height": 51,
    "title": {"text": "Number at risk", "anchor": "start", "frame": "group", "fontSize": 13.3, "offset": 5},
    "data": {"name": "riskA"},
    "mark": {"type": "text", "fontSize": 13.3, "color": "#1A1A1A"},
    "encoding": {
     "x": {"field": "t", "type": "quantitative", "scale": {"domain": [-10, 210], "nice": false, "zero": false}, "axis": {"title": "Time in months", "values": [0,50,100,150,200], "format": "d", "grid": false, "labelPadding": 4}},
     "y": {"field": "s", "type": "nominal", "scale": {"type": "point", "padding": 0.6, "domain": ["H","L"]}, "axis": {"title": "Strata", "titleFontSize": 10.5, "labelFontSize": 11, "labelPadding": 1, "titlePadding": 5, "grid": false, "labelExpr": "datum.value === 'H' ? 'High risk' : 'Low risk'", "labelColor": {"condition": {"test": "datum.value === 'H'", "value": "#E7B800"}, "value": "#2E9FDF"}}},
     "text": {"field": "n", "type": "quantitative"}
    }},
   {"width": 482, "height": 51,
    "title": {"text": "Number of censoring", "anchor": "start", "frame": "group", "fontSize": 13.3, "offset": 3},
    "data": {"name": "censA"},
    "mark": {"type": "bar", "width": 2, "strokeWidth": 0.6, "clip": true},
    "encoding": {
     "x": {"field": "t", "type": "quantitative", "scale": {"domain": [-10, 210], "nice": false, "zero": false},
      "axis": {"title": "Time in months", "values": [0,25,50,75,100,125,150,175,200], "format": "d", "labelOverlap": false, "labelPadding": 0.5, "labelExpr": "datum.value % 50 === 0 ? datum.label : ''", "tickOpacity": {"condition": {"test": "datum.value % 50 !== 0", "value": 0}, "value": 1}, "gridColor": {"condition": {"test": "datum.value % 50 !== 0", "value": "#F2F2F2"}, "value": "#E4E4E4"}}},
     "y": {"field": "n", "type": "quantitative", "scale": {"domain": [-0.3, 6.3], "nice": false, "zero": false},
      "axis": {"title": "n. censor", "values": [0,0.5,1,1.5,2,2.5,3,3.5,4,4.5,5,5.5,6], "format": "d", "labelOverlap": false, "labelExpr": "datum.value % 1 === 0 ? datum.label : ''", "labelFontSize": 8, "titleFontSize": 10.5, "labelPadding": 2, "titlePadding": 9, "tickOpacity": {"condition": {"test": "datum.value % 1 !== 0", "value": 0}, "value": 1}, "gridColor": {"condition": {"test": "datum.value % 1 !== 0", "value": "#F2F2F2"}, "value": "#E4E4E4"}}},
     "y2": {"datum": 0},
     "color": {"field": "s", "type": "nominal", "scale": {"domain": ["H","L"], "range": ["#E7B800","#2E9FDF"]}, "legend": null},
     "stroke": {"field": "s", "type": "nominal", "scale": {"domain": ["H","L"], "range": ["#E7B800","#2E9FDF"]}, "legend": null}
    }}
  ]
 },
 {
  "title": {"text": "B", "anchor": "start", "frame": "bounds", "fontSize": 25, "offset": 0, "dy": 29, "dx": -12},
  "spacing": -3,
  "resolve": {"scale": {"x": "independent", "y": "independent", "color": "independent", "stroke": "independent"}, "legend": {"color": "independent", "stroke": "independent"}},
  "vconcat": [
   {"width": 482, "height": 134,
    "layer": [
     {"data": {"name": "curvesB"},
      "mark": {"type": "area", "interpolate": "step-after", "opacity": 0.35, "clip": true},
      "encoding": {
       "x": {"field": "t", "type": "quantitative", "scale": {"domain": [-8.6, 166.7], "nice": false, "zero": false},
        "axis": {"title": "Time in months", "values": [0,20,40,60,80,100,120,140,160], "format": "d", "labelOverlap": false, "labelExpr": "datum.value % 40 === 0 ? datum.label : ''", "tickOpacity": {"condition": {"test": "datum.value % 40 !== 0", "value": 0}, "value": 1}, "gridColor": {"condition": {"test": "datum.value % 40 !== 0", "value": "#F2F2F2"}, "value": "#E4E4E4"}}},
       "y": {"field": "lo", "type": "quantitative", "scale": {"domain": [-0.05, 1.05], "nice": false, "zero": false},
        "axis": {"title": "Survival probability", "values": [0,0.125,0.25,0.375,0.5,0.625,0.75,0.875,1], "format": ".2f", "labelOverlap": false, "labelPadding": 3, "titlePadding": 12, "labelExpr": "(datum.value == 0 || datum.value == 0.25 || datum.value == 0.5 || datum.value == 0.75 || datum.value == 1) ? datum.label : ''", "tickOpacity": {"condition": {"test": "!(datum.value == 0 || datum.value == 0.25 || datum.value == 0.5 || datum.value == 0.75 || datum.value == 1)", "value": 0}, "value": 1}, "gridColor": {"condition": {"test": "!(datum.value == 0 || datum.value == 0.25 || datum.value == 0.5 || datum.value == 0.75 || datum.value == 1)", "value": "#F2F2F2"}, "value": "#E4E4E4"}}},
       "y2": {"field": "hi"},
       "color": {"field": "s", "type": "nominal", "scale": {"domain": ["H","L"], "range": ["#E7B800","#2E9FDF"]},
        "legend": {"orient": "none", "legendX": 158, "legendY": -32, "direction": "horizontal", "title": "Strata", "titleOrient": "left", "titleAnchor": "middle", "titleBaseline": "middle", "titleAlign": "left", "titleFontSize": 10.7, "titleFontWeight": "normal", "titleColor": "#1A1A1A", "titlePadding": 5, "labelFontSize": 10.7, "labelColor": "#1A1A1A", "labelOffset": 4, "columnPadding": 4, "symbolType": "M-1.2,-1H1.2V1H-1.2Z M-1.2,0H1.2 M0,-0.5V0.5", "symbolSize": 196, "labelExpr": "datum.value === 'H' ? 'High risk' : 'Low risk'"}}
      }},
     {"data": {"name": "curvesB"}, "mark": {"type": "line", "interpolate": "step-after", "strokeWidth": 1.7, "clip": true},
      "encoding": {"x": {"field": "t", "type": "quantitative", "axis": {"title": "Time in months", "values": [0,20,40,60,80,100,120,140,160], "format": "d", "labelOverlap": false, "labelExpr": "datum.value % 40 === 0 ? datum.label : ''", "tickOpacity": {"condition": {"test": "datum.value % 40 !== 0", "value": 0}, "value": 1}, "gridColor": {"condition": {"test": "datum.value % 40 !== 0", "value": "#F2F2F2"}, "value": "#E4E4E4"}}}, "y": {"field": "v", "type": "quantitative", "axis": {"title": "Survival probability", "values": [0,0.125,0.25,0.375,0.5,0.625,0.75,0.875,1], "format": ".2f", "labelOverlap": false, "labelPadding": 3, "titlePadding": 12, "labelExpr": "(datum.value == 0 || datum.value == 0.25 || datum.value == 0.5 || datum.value == 0.75 || datum.value == 1) ? datum.label : ''", "tickOpacity": {"condition": {"test": "!(datum.value == 0 || datum.value == 0.25 || datum.value == 0.5 || datum.value == 0.75 || datum.value == 1)", "value": 0}, "value": 1}, "gridColor": {"condition": {"test": "!(datum.value == 0 || datum.value == 0.25 || datum.value == 0.5 || datum.value == 0.75 || datum.value == 1)", "value": "#F2F2F2"}, "value": "#E4E4E4"}}}, "color": {"field": "s", "type": "nominal"}}},
     {"data": {"name": "marksB"}, "mark": {"type": "point", "shape": "M-1,0H1M0,-1V1", "size": 25, "filled": false, "strokeWidth": 1, "opacity": 1, "clip": true},
      "encoding": {"x": {"field": "t", "type": "quantitative", "axis": {"title": "Time in months", "values": [0,20,40,60,80,100,120,140,160], "format": "d", "labelOverlap": false, "labelExpr": "datum.value % 40 === 0 ? datum.label : ''", "tickOpacity": {"condition": {"test": "datum.value % 40 !== 0", "value": 0}, "value": 1}, "gridColor": {"condition": {"test": "datum.value % 40 !== 0", "value": "#F2F2F2"}, "value": "#E4E4E4"}}}, "y": {"field": "v", "type": "quantitative", "axis": {"title": "Survival probability", "values": [0,0.125,0.25,0.375,0.5,0.625,0.75,0.875,1], "format": ".2f", "labelOverlap": false, "labelPadding": 3, "titlePadding": 12, "labelExpr": "(datum.value == 0 || datum.value == 0.25 || datum.value == 0.5 || datum.value == 0.75 || datum.value == 1) ? datum.label : ''", "tickOpacity": {"condition": {"test": "!(datum.value == 0 || datum.value == 0.25 || datum.value == 0.5 || datum.value == 0.75 || datum.value == 1)", "value": 0}, "value": 1}, "gridColor": {"condition": {"test": "!(datum.value == 0 || datum.value == 0.25 || datum.value == 0.5 || datum.value == 0.75 || datum.value == 1)", "value": "#F2F2F2"}, "value": "#E4E4E4"}}}, "color": {"field": "s", "type": "nominal"}}},
     {"data": {"name": "pvB"}, "mark": {"type": "text", "align": "left", "baseline": "middle", "fontSize": 13.3, "color": "#1A1A1A"},
      "encoding": {"x": {"field": "t", "type": "quantitative", "axis": {"title": "Time in months", "values": [0,20,40,60,80,100,120,140,160], "format": "d", "labelOverlap": false, "labelExpr": "datum.value % 40 === 0 ? datum.label : ''", "tickOpacity": {"condition": {"test": "datum.value % 40 !== 0", "value": 0}, "value": 1}, "gridColor": {"condition": {"test": "datum.value % 40 !== 0", "value": "#F2F2F2"}, "value": "#E4E4E4"}}}, "y": {"field": "v", "type": "quantitative", "axis": {"title": "Survival probability", "values": [0,0.125,0.25,0.375,0.5,0.625,0.75,0.875,1], "format": ".2f", "labelOverlap": false, "labelPadding": 3, "titlePadding": 12, "labelExpr": "(datum.value == 0 || datum.value == 0.25 || datum.value == 0.5 || datum.value == 0.75 || datum.value == 1) ? datum.label : ''", "tickOpacity": {"condition": {"test": "!(datum.value == 0 || datum.value == 0.25 || datum.value == 0.5 || datum.value == 0.75 || datum.value == 1)", "value": 0}, "value": 1}, "gridColor": {"condition": {"test": "!(datum.value == 0 || datum.value == 0.25 || datum.value == 0.5 || datum.value == 0.75 || datum.value == 1)", "value": "#F2F2F2"}, "value": "#E4E4E4"}}}, "text": {"field": "label"}}}
    ]},
   {"width": 482, "height": 51,
    "title": {"text": "Number at risk", "anchor": "start", "frame": "group", "fontSize": 13.3, "offset": 5},
    "data": {"name": "riskB"},
    "mark": {"type": "text", "fontSize": 13.3, "color": "#1A1A1A"},
    "encoding": {
     "x": {"field": "t", "type": "quantitative", "scale": {"domain": [-8.6, 166.7], "nice": false, "zero": false}, "axis": {"title": "Time in months", "values": [0,40,80,120,160], "format": "d", "grid": false, "labelPadding": 4}},
     "y": {"field": "s", "type": "nominal", "scale": {"type": "point", "padding": 0.6, "domain": ["H","L"]}, "axis": {"title": "Strata", "titleFontSize": 10.5, "labelFontSize": 11, "labelPadding": 1, "titlePadding": 5, "grid": false, "labelExpr": "datum.value === 'H' ? 'High risk' : 'Low risk'", "labelColor": {"condition": {"test": "datum.value === 'H'", "value": "#E7B800"}, "value": "#2E9FDF"}}},
     "text": {"field": "n", "type": "quantitative"}
    }},
   {"width": 482, "height": 51,
    "title": {"text": "Number of censoring", "anchor": "start", "frame": "group", "fontSize": 13.3, "offset": 3},
    "data": {"name": "censB"},
    "mark": {"type": "bar", "width": 2, "strokeWidth": 0.6, "clip": true},
    "encoding": {
     "x": {"field": "t", "type": "quantitative", "scale": {"domain": [-8.6, 166.7], "nice": false, "zero": false},
      "axis": {"title": "Time in months", "values": [0,20,40,60,80,100,120,140,160], "format": "d", "labelOverlap": false, "labelPadding": 0.5, "labelExpr": "datum.value % 40 === 0 ? datum.label : ''", "tickOpacity": {"condition": {"test": "datum.value % 40 !== 0", "value": 0}, "value": 1}, "gridColor": {"condition": {"test": "datum.value % 40 !== 0", "value": "#F2F2F2"}, "value": "#E4E4E4"}}},
     "y": {"field": "n", "type": "quantitative", "scale": {"domain": [-0.1, 2.1], "nice": false, "zero": false},
      "axis": {"title": "n. censor", "values": [0,0.5,1,1.5,2], "format": "d", "labelOverlap": false, "labelExpr": "datum.value % 1 === 0 ? datum.label : ''", "labelFontSize": 8, "titleFontSize": 10.5, "labelPadding": 2, "titlePadding": 9, "tickOpacity": {"condition": {"test": "datum.value % 1 !== 0", "value": 0}, "value": 1}, "gridColor": {"condition": {"test": "datum.value % 1 !== 0", "value": "#F2F2F2"}, "value": "#E4E4E4"}}},
     "y2": {"datum": 0},
     "color": {"field": "s", "type": "nominal", "scale": {"domain": ["H","L"], "range": ["#E7B800","#2E9FDF"]}, "legend": null},
     "stroke": {"field": "s", "type": "nominal", "scale": {"domain": ["H","L"], "range": ["#E7B800","#2E9FDF"]}, "legend": null}
    }}
  ]
 },
 {
  "title": {"text": "C", "anchor": "start", "frame": "bounds", "fontSize": 25, "offset": 0, "dy": 20, "dx": 4},
  "spacing": -3,
  "resolve": {"scale": {"x": "independent", "y": "independent", "color": "independent", "stroke": "independent"}, "legend": {"color": "independent", "stroke": "independent"}},
  "vconcat": [
   {"width": 482, "height": 134,
    "layer": [
     {"data": {"name": "curvesC"},
      "mark": {"type": "area", "interpolate": "step-after", "opacity": 0.35, "clip": true},
      "encoding": {
       "x": {"field": "t", "type": "quantitative", "scale": {"domain": [-8, 168], "nice": false, "zero": false},
        "axis": {"title": "Time in months", "values": [0,20,40,60,80,100,120,140,160], "format": "d", "labelOverlap": false, "labelExpr": "datum.value % 40 === 0 ? datum.label : ''", "tickOpacity": {"condition": {"test": "datum.value % 40 !== 0", "value": 0}, "value": 1}, "gridColor": {"condition": {"test": "datum.value % 40 !== 0", "value": "#F2F2F2"}, "value": "#E4E4E4"}}},
       "y": {"field": "lo", "type": "quantitative", "scale": {"domain": [-0.05, 1.05], "nice": false, "zero": false},
        "axis": {"title": "Survival probability", "values": [0,0.125,0.25,0.375,0.5,0.625,0.75,0.875,1], "format": ".2f", "labelOverlap": false, "labelPadding": 3, "titlePadding": 12, "labelExpr": "(datum.value == 0 || datum.value == 0.25 || datum.value == 0.5 || datum.value == 0.75 || datum.value == 1) ? datum.label : ''", "tickOpacity": {"condition": {"test": "!(datum.value == 0 || datum.value == 0.25 || datum.value == 0.5 || datum.value == 0.75 || datum.value == 1)", "value": 0}, "value": 1}, "gridColor": {"condition": {"test": "!(datum.value == 0 || datum.value == 0.25 || datum.value == 0.5 || datum.value == 0.75 || datum.value == 1)", "value": "#F2F2F2"}, "value": "#E4E4E4"}}},
       "y2": {"field": "hi"},
       "color": {"field": "s", "type": "nominal", "scale": {"domain": ["H","L"], "range": ["#E7B800","#2E9FDF"]},
        "legend": {"orient": "none", "legendX": 159, "legendY": -32, "direction": "horizontal", "title": "Strata", "titleOrient": "left", "titleAnchor": "middle", "titleBaseline": "middle", "titleAlign": "left", "titleFontSize": 10.7, "titleFontWeight": "normal", "titleColor": "#1A1A1A", "titlePadding": 5, "labelFontSize": 10.7, "labelColor": "#1A1A1A", "labelOffset": 4, "columnPadding": 4, "symbolType": "M-1.2,-1H1.2V1H-1.2Z M-1.2,0H1.2 M0,-0.5V0.5", "symbolSize": 196, "labelExpr": "datum.value === 'H' ? 'High risk' : 'Low risk'"}}
      }},
     {"data": {"name": "curvesC"}, "mark": {"type": "line", "interpolate": "step-after", "strokeWidth": 1.7, "clip": true},
      "encoding": {"x": {"field": "t", "type": "quantitative", "axis": {"title": "Time in months", "values": [0,20,40,60,80,100,120,140,160], "format": "d", "labelOverlap": false, "labelExpr": "datum.value % 40 === 0 ? datum.label : ''", "tickOpacity": {"condition": {"test": "datum.value % 40 !== 0", "value": 0}, "value": 1}, "gridColor": {"condition": {"test": "datum.value % 40 !== 0", "value": "#F2F2F2"}, "value": "#E4E4E4"}}}, "y": {"field": "v", "type": "quantitative", "axis": {"title": "Survival probability", "values": [0,0.125,0.25,0.375,0.5,0.625,0.75,0.875,1], "format": ".2f", "labelOverlap": false, "labelPadding": 3, "titlePadding": 12, "labelExpr": "(datum.value == 0 || datum.value == 0.25 || datum.value == 0.5 || datum.value == 0.75 || datum.value == 1) ? datum.label : ''", "tickOpacity": {"condition": {"test": "!(datum.value == 0 || datum.value == 0.25 || datum.value == 0.5 || datum.value == 0.75 || datum.value == 1)", "value": 0}, "value": 1}, "gridColor": {"condition": {"test": "!(datum.value == 0 || datum.value == 0.25 || datum.value == 0.5 || datum.value == 0.75 || datum.value == 1)", "value": "#F2F2F2"}, "value": "#E4E4E4"}}}, "color": {"field": "s", "type": "nominal"}}},
     {"data": {"name": "marksC"}, "mark": {"type": "point", "shape": "M-1,0H1M0,-1V1", "size": 25, "filled": false, "strokeWidth": 1, "opacity": 1, "clip": true},
      "encoding": {"x": {"field": "t", "type": "quantitative", "axis": {"title": "Time in months", "values": [0,20,40,60,80,100,120,140,160], "format": "d", "labelOverlap": false, "labelExpr": "datum.value % 40 === 0 ? datum.label : ''", "tickOpacity": {"condition": {"test": "datum.value % 40 !== 0", "value": 0}, "value": 1}, "gridColor": {"condition": {"test": "datum.value % 40 !== 0", "value": "#F2F2F2"}, "value": "#E4E4E4"}}}, "y": {"field": "v", "type": "quantitative", "axis": {"title": "Survival probability", "values": [0,0.125,0.25,0.375,0.5,0.625,0.75,0.875,1], "format": ".2f", "labelOverlap": false, "labelPadding": 3, "titlePadding": 12, "labelExpr": "(datum.value == 0 || datum.value == 0.25 || datum.value == 0.5 || datum.value == 0.75 || datum.value == 1) ? datum.label : ''", "tickOpacity": {"condition": {"test": "!(datum.value == 0 || datum.value == 0.25 || datum.value == 0.5 || datum.value == 0.75 || datum.value == 1)", "value": 0}, "value": 1}, "gridColor": {"condition": {"test": "!(datum.value == 0 || datum.value == 0.25 || datum.value == 0.5 || datum.value == 0.75 || datum.value == 1)", "value": "#F2F2F2"}, "value": "#E4E4E4"}}}, "color": {"field": "s", "type": "nominal"}}},
     {"data": {"name": "pvC"}, "mark": {"type": "text", "align": "left", "baseline": "middle", "fontSize": 13.3, "color": "#1A1A1A"},
      "encoding": {"x": {"field": "t", "type": "quantitative", "axis": {"title": "Time in months", "values": [0,20,40,60,80,100,120,140,160], "format": "d", "labelOverlap": false, "labelExpr": "datum.value % 40 === 0 ? datum.label : ''", "tickOpacity": {"condition": {"test": "datum.value % 40 !== 0", "value": 0}, "value": 1}, "gridColor": {"condition": {"test": "datum.value % 40 !== 0", "value": "#F2F2F2"}, "value": "#E4E4E4"}}}, "y": {"field": "v", "type": "quantitative", "axis": {"title": "Survival probability", "values": [0,0.125,0.25,0.375,0.5,0.625,0.75,0.875,1], "format": ".2f", "labelOverlap": false, "labelPadding": 3, "titlePadding": 12, "labelExpr": "(datum.value == 0 || datum.value == 0.25 || datum.value == 0.5 || datum.value == 0.75 || datum.value == 1) ? datum.label : ''", "tickOpacity": {"condition": {"test": "!(datum.value == 0 || datum.value == 0.25 || datum.value == 0.5 || datum.value == 0.75 || datum.value == 1)", "value": 0}, "value": 1}, "gridColor": {"condition": {"test": "!(datum.value == 0 || datum.value == 0.25 || datum.value == 0.5 || datum.value == 0.75 || datum.value == 1)", "value": "#F2F2F2"}, "value": "#E4E4E4"}}}, "text": {"field": "label"}}}
    ]},
   {"width": 482, "height": 51,
    "title": {"text": "Number at risk", "anchor": "start", "frame": "group", "fontSize": 13.3, "offset": 5},
    "data": {"name": "riskC"},
    "mark": {"type": "text", "fontSize": 13.3, "color": "#1A1A1A"},
    "encoding": {
     "x": {"field": "t", "type": "quantitative", "scale": {"domain": [-8, 168], "nice": false, "zero": false}, "axis": {"title": "Time in months", "values": [0,40,80,120,160], "format": "d", "grid": false, "labelPadding": 4}},
     "y": {"field": "s", "type": "nominal", "scale": {"type": "point", "padding": 0.6, "domain": ["H","L"]}, "axis": {"title": "Strata", "titleFontSize": 10.5, "labelFontSize": 11, "labelPadding": 1, "titlePadding": 5, "grid": false, "labelExpr": "datum.value === 'H' ? 'High risk' : 'Low risk'", "labelColor": {"condition": {"test": "datum.value === 'H'", "value": "#E7B800"}, "value": "#2E9FDF"}}},
     "text": {"field": "n", "type": "quantitative"}
    }},
   {"width": 482, "height": 51,
    "title": {"text": "Number of censoring", "anchor": "start", "frame": "group", "fontSize": 13.3, "offset": 3},
    "data": {"name": "censC"},
    "mark": {"type": "bar", "width": 2, "strokeWidth": 0.6, "clip": true},
    "encoding": {
     "x": {"field": "t", "type": "quantitative", "scale": {"domain": [-8, 168], "nice": false, "zero": false},
      "axis": {"title": "Time in months", "values": [0,20,40,60,80,100,120,140,160], "format": "d", "labelOverlap": false, "labelPadding": 2, "titlePadding": 0, "labelExpr": "datum.value % 40 === 0 ? datum.label : ''", "tickOpacity": {"condition": {"test": "datum.value % 40 !== 0", "value": 0}, "value": 1}, "gridColor": {"condition": {"test": "datum.value % 40 !== 0", "value": "#F2F2F2"}, "value": "#E4E4E4"}}},
     "y": {"field": "n", "type": "quantitative", "scale": {"domain": [-0.1, 2.1], "nice": false, "zero": false},
      "axis": {"title": "n. censor", "values": [0,0.5,1,1.5,2], "format": "d", "labelOverlap": false, "labelExpr": "datum.value % 1 === 0 ? datum.label : ''", "labelFontSize": 8, "titleFontSize": 10.5, "labelPadding": 2, "titlePadding": 9, "tickOpacity": {"condition": {"test": "datum.value % 1 !== 0", "value": 0}, "value": 1}, "gridColor": {"condition": {"test": "datum.value % 1 !== 0", "value": "#F2F2F2"}, "value": "#E4E4E4"}}},
     "y2": {"datum": 0},
     "color": {"field": "s", "type": "nominal", "scale": {"domain": ["H","L"], "range": ["#E7B800","#2E9FDF"]}, "legend": null},
     "stroke": {"field": "s", "type": "nominal", "scale": {"domain": ["H","L"], "range": ["#E7B800","#2E9FDF"]}, "legend": null}
    }}
  ]
 }
]
}
